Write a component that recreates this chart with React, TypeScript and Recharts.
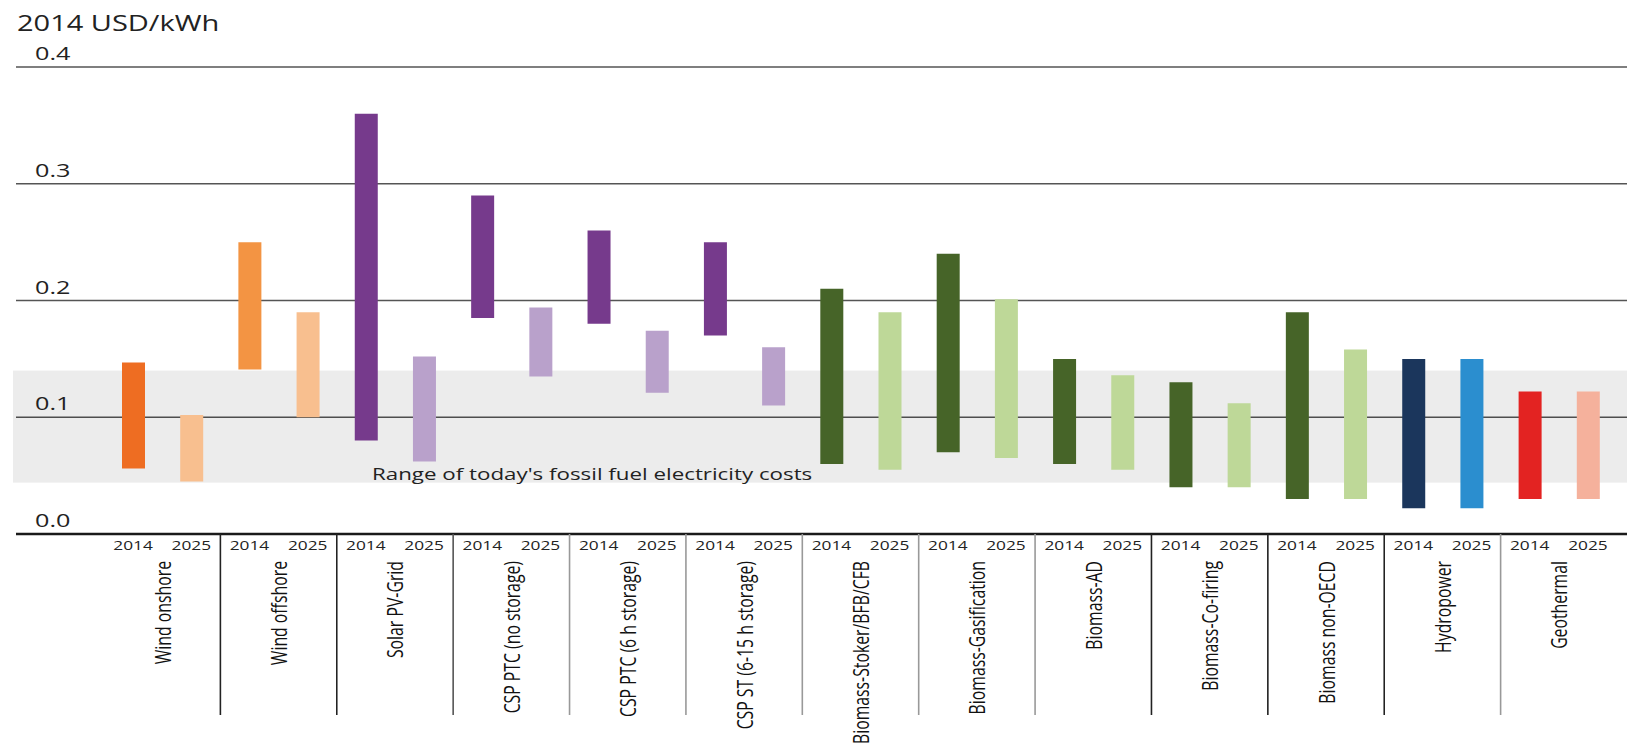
import React from "react"
import { Bar, BarChart, CartesianGrid, Cell, ReferenceArea, XAxis, YAxis } from "recharts"

// cost ranges, 2014 USD/kWh
const technologies = [
  "Wind onshore",
  "Wind offshore",
  "Solar PV-Grid",
  "CSP PTC (no storage)",
  "CSP PTC (6 h storage)",
  "CSP ST (6-15 h storage)",
  "Biomass-Stoker/BFB/CFB",
  "Biomass-Gasification",
  "Biomass-AD",
  "Biomass-Co-firing",
  "Biomass non-OECD",
  "Hydropower",
  "Geothermal",
]
const years = ["2014", "2025"]

const low2014 = [0.056, 0.141, 0.08, 0.185, 0.18, 0.17, 0.06, 0.07, 0.06, 0.04, 0.03, 0.022, 0.03]
const high2014 = [0.147, 0.25, 0.36, 0.29, 0.26, 0.25, 0.21, 0.24, 0.15, 0.13, 0.19, 0.15, 0.122]
const low2025 = [0.045, 0.1, 0.062, 0.135, 0.121, 0.11, 0.055, 0.065, 0.055, 0.04, 0.03, 0.022, 0.03]
const high2025 = [0.102, 0.19, 0.152, 0.194, 0.174, 0.16, 0.19, 0.201, 0.136, 0.112, 0.158, 0.15, 0.122]

const fossilRange = [0.044, 0.14]
const yTicks = [0, 0.1, 0.2, 0.3, 0.4]

const colors2014 = [
  "#EE6D22", "#F39443", "#763A8C", "#763A8C", "#763A8C", "#763A8C",
  "#466428", "#466428", "#466428", "#466428", "#466428", "#1B365C", "#E32322",
]
const colors2025 = [
  "#F8BF8F", "#F8BF8F", "#B9A1CB", "#B9A1CB", "#B9A1CB", "#B9A1CB",
  "#BED898", "#BED898", "#BED898", "#BED898", "#BED898", "#2B8ECF", "#F5B19C",
]
// stroke of the divider to the right of each group
const dividerStrokes = [
  "#222", "#222", "#555", "#999", "#999", "#999",
  "#999", "#999", "#222", "#222", "#222", "#999", "none",
]

const FONT = "'Open Sans', 'Noto Sans', sans-serif"
const SX = 1.33 // the source figure is stretched sideways

const rows = technologies.flatMap((tech, i) =>
  years.map((year) => ({
    key: `${tech} ${year}`,
    tech,
    year,
    group: i,
    range: year === "2014" ? [low2014[i], high2014[i]] : [low2025[i], high2025[i]],
    color: year === "2014" ? colors2014[i] : colors2025[i],
  }))
)

const W = 1627
const H = 745
const MARGIN_LEFT = 14
const Y_WIDTH = 2
const PAD_LEFT = 88
const PAD_RIGHT = 10

function XTick(props: any) {
  const { x, y, payload } = props
  const row = rows.find((r) => r.key === payload.value)
  if (!row) return null
  const band = (W - MARGIN_LEFT - Y_WIDTH - PAD_LEFT - PAD_RIGHT) / rows.length
  const half = payload.offset > 0 ? payload.offset : band / 2
  return (
    <g fontFamily={FONT}>
      <text
        transform={`translate(${x},${y + 16}) scale(${SX},1)`}
        textAnchor="middle"
        fontSize={13}
        fill="#222"
      >
        {row.year}
      </text>
      {row.year === "2014" && (
        <text
          transform={`translate(${x + half},${y + 27}) scale(${SX},1) rotate(-90)`}
          textAnchor="end"
          dominantBaseline="central"
          fontSize={15.8}
          fill="#111"
        >
          {row.tech}
        </text>
      )}
      {row.year === "2025" && (
        <line
          x1={x + half}
          x2={x + half}
          y1={y}
          y2={y + 181}
          stroke={dividerStrokes[row.group]}
          strokeWidth={1.6}
        />
      )}
    </g>
  )
}

function YTick(props: any) {
  const { y, payload } = props
  return (
    <text
      transform={`translate(35,${y - 7}) scale(1.4,1)`}
      fontFamily={FONT}
      fontSize={18}
      fill="#222"
      textAnchor="start"
    >
      {Number(payload.value).toFixed(1)}
    </text>
  )
}

// the band runs across the whole frame, not only the category range
function FossilBand(props: any) {
  const { x, y, width, height } = props
  const left = x - PAD_LEFT - Y_WIDTH - 1
  return (
    <g>
      <rect
        x={left}
        y={y}
        width={width + PAD_LEFT + PAD_RIGHT + Y_WIDTH + 1}
        height={height}
        fill="#000"
        fillOpacity={0.075}
      />
      <text
        transform={`translate(${left + 359},${y + height - 3}) scale(${SX},1)`}
        fontFamily={FONT}
        fontSize={16.8}
        fill="#222"
      >
        Range of today's fossil fuel electricity costs
      </text>
    </g>
  )
}

export default function App() {
  return (
    <div style={{ position: "absolute", left: 0, top: 0, width: W, height: H, background: "#fff" }}>
      <svg width={W} height={60} style={{ position: "absolute", left: 0, top: 0 }}>
        <text
          transform={`translate(17,31) scale(1.38,1)`}
          fontFamily={FONT}
          fontSize={21}
          fill="#222"
        >
          2014 USD/kWh
        </text>
      </svg>
      <BarChart
        width={W}
        height={H}
        data={rows}
        margin={{ top: 67, right: 0, bottom: 11, left: MARGIN_LEFT }}
        barSize={23}
      >
        <ReferenceArea
          y1={fossilRange[0]}
          y2={fossilRange[1]}
          stroke="none"
          ifOverflow="visible"
          shape={<FossilBand />}
        />
        <CartesianGrid vertical={false} stroke="#555" strokeWidth={1.3} />
        <XAxis
          dataKey="key"
          interval={0}
          height={200}
          padding={{ left: PAD_LEFT, right: PAD_RIGHT }}
          tickLine={false}
          tickSize={0}
          tickMargin={0}
          axisLine={{ stroke: "#1a1a1a", strokeWidth: 2.5 }}
          tick={<XTick />}
        />
        <YAxis
          width={Y_WIDTH}
          domain={[0, 0.4]}
          ticks={yTicks}
          interval={0}
          axisLine={false}
          tickLine={false}
          tick={<YTick />}
        />
        <Bar dataKey="range" isAnimationActive={false}>
          {rows.map((r, i) => (
            <Cell key={`cell-${i}`} fill={r.color} />
          ))}
        </Bar>
      </BarChart>
    </div>
  )
}
